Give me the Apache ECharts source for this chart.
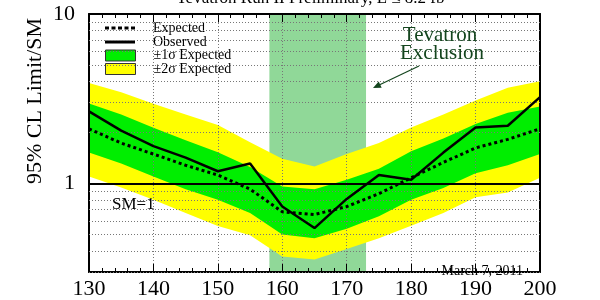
<!DOCTYPE html>
<html style="height:100%">
<head>
    <meta charset="utf-8">
    <script src="https://cdn.jsdelivr.net/npm/echarts@6/dist/echarts.min.js"></script>
    <title>Tevatron Higgs limit</title>
</head>
<body style="height:100%; margin:0; background:#fff">
<div id="container" style="width:600px; height:300px"></div>
<script type="text/javascript">
// Higgs mass points (GeV)
var mass = [130, 135, 140, 145, 150, 155, 160, 165, 170, 175, 180, 185, 190, 195, 200];
// 95% CL limit / SM
var observed = [2.66, 2.05, 1.66, 1.42, 1.18, 1.31, 0.73, 0.545, 0.81, 1.12, 1.05, 1.52, 2.14, 2.19, 3.23];
var expected = [2.10, 1.73, 1.49, 1.28, 1.12, 0.925, 0.68, 0.655, 0.73, 0.87, 1.08, 1.33, 1.62, 1.82, 2.10];
// +-1 sigma band
var sigma1Up = [2.96, 2.55, 2.13, 1.80, 1.53, 1.25, 0.96, 0.925, 1.05, 1.22, 1.55, 1.84, 2.24, 2.61, 2.84];
var sigma1Down = [1.52, 1.31, 1.10, 0.925, 0.80, 0.67, 0.50, 0.474, 0.54, 0.64, 0.80, 0.94, 1.15, 1.28, 1.49];
// +-2 sigma band
var sigma2Up = [3.92, 3.45, 2.95, 2.55, 2.21, 1.75, 1.40, 1.26, 1.49, 1.73, 2.14, 2.55, 3.09, 3.67, 4.01];
var sigma2Down = [1.10, 0.945, 0.80, 0.67, 0.56, 0.495, 0.37, 0.355, 0.41, 0.474, 0.563, 0.67, 0.83, 0.885, 1.08];
// Tevatron excluded mass range
var exclusion = [158, 173];
// minor y grid values
var minorGrid = [0.3, 0.4, 0.5, 0.6, 0.7, 0.8, 0.9, 2, 3, 4, 5, 6, 7, 8, 9];

var serif = 'Liberation Serif';
var chart = echarts.init(document.getElementById('container'));

function pairs(ys) {
    return mass.map(function (m, i) { return [m, ys[i]]; });
}

function band(upper, lower, color) {
    return function (params, api) {
        var pts = [];
        for (var i = 0; i < mass.length; i++) pts.push(api.coord([mass[i], upper[i]]));
        for (var j = mass.length - 1; j >= 0; j--) pts.push(api.coord([mass[j], lower[j]]));
        return { type: 'polygon', shape: { points: pts }, style: { fill: color } };
    };
}

var xCommon = {
    type: 'value', min: 130, max: 200, interval: 10, z: 3,
    axisLine: { lineStyle: { color: '#000', width: 2 } },
    axisTick: { inside: true, length: 8, lineStyle: { color: '#000' } },
    minorTick: { show: true, splitNumber: 5, length: 4, lineStyle: { color: '#000' } }
};
var yCommon = {
    type: 'log', logBase: 10, min: 0.3, max: 10, z: 3,
    axisLine: { lineStyle: { color: '#000', width: 2 } },
    axisTick: { inside: true, length: 8, lineStyle: { color: '#000' } },
    splitLine: { show: false }
};

// one legend per row so the rows sit where the reference puts them
var legendItems = [
    { name: 'Expected', icon: 'path://M0,0h4v3h-4zM6.5,0h4v3h-4zM13,0h4v3h-4zM19.5,0h4v3h-4zM26,0h4v3h-4z',
      itemStyle: { color: '#000' } },
    { name: 'Observed', icon: 'path://M0,0h30v3h-30z', itemStyle: { color: '#000' } },
    { name: '±1σ Expected', icon: 'rect', itemStyle: { color: '#00ee00', borderColor: '#333', borderWidth: 1 } },
    { name: '±2σ Expected', icon: 'rect', itemStyle: { color: '#ffff00', borderColor: '#333', borderWidth: 1 } }
];
var legendRows = [28, 42, 55.5, 69];
var legends = legendItems.map(function (item, i) {
    return {
        left: 105, top: legendRows[i] - 7, padding: 0,
        itemWidth: 30, itemHeight: 11,
        selectedMode: false, symbolKeepAspect: true,
        textStyle: { fontFamily: serif, fontSize: 14, color: '#000', lineHeight: 14, padding: [0, 0, 0, 13] },
        data: [item]
    };
});

var option = {
    animation: false,
    grid: { left: 89, right: 60, top: 14, bottom: 16 },
    xAxis: [
        Object.assign({}, xCommon, {
            position: 'bottom',
            axisLabel: { color: '#000', fontFamily: serif, fontSize: 22, margin: 6 },
            splitLine: { show: true, lineStyle: { color: '#777', type: [1, 2] } }
        }),
        Object.assign({}, xCommon, {
            position: 'top',
            axisLabel: { show: false },
            splitLine: { show: false }
        })
    ],
    yAxis: [
        Object.assign({}, yCommon, {
            position: 'left',
            axisLabel: { color: '#000', fontFamily: serif, fontSize: 22, margin: 14, showMinLabel: false }
        }),
        Object.assign({}, yCommon, {
            position: 'right',
            axisLabel: { show: false }
        })
    ],
    legend: legends,
    series: [
        {
            name: 'exclusion', type: 'custom', z: 1, silent: true,
            data: [[exclusion[0], 1]],
            renderItem: function (params, api) {
                var a = api.coord([exclusion[0], 10]);
                var b = api.coord([exclusion[1], 0.3]);
                return { type: 'rect', shape: { x: a[0], y: a[1], width: b[0] - a[0], height: b[1] - a[1] },
                    style: { fill: '#90d898' } };
            }
        },
        {
            name: '±2σ Expected', type: 'custom', z: 2, silent: true,
            itemStyle: { color: '#ffff00' },
            data: [[130, 1]], renderItem: band(sigma2Up, sigma2Down, '#ffff00')
        },
        {
            name: '±1σ Expected', type: 'custom', z: 2, silent: true,
            itemStyle: { color: '#00ee00' },
            data: [[130, 1]], renderItem: band(sigma1Up, sigma1Down, '#00ee00')
        },
        {
            name: 'Expected', type: 'line', z: 5, symbol: 'none', silent: true,
            data: pairs(expected),
            lineStyle: { color: '#000', width: 3, type: [3, 3], cap: 'butt' },
            itemStyle: { color: '#000' }
        },
        {
            name: 'Observed', type: 'line', z: 5, symbol: 'none', silent: true,
            data: pairs(observed),
            lineStyle: { color: '#000', width: 2.5 },
            itemStyle: { color: '#000' },
            markLine: {
                silent: true, symbol: 'none', label: { show: false }, animation: false,
                data: minorGrid.map(function (v) {
                    return { yAxis: v, lineStyle: { color: '#777', width: 1, type: [1, 2] } };
                }).concat([{ yAxis: 1, lineStyle: { color: '#000', width: 2, type: 'solid' } }])
            }
        }
    ],
    graphic: [
        { type: 'text', x: 316, y: 7, z: 10,
          style: { text: 'Tevatron Run II Preliminary, L ≤ 8.2 fb⁻¹', font: '17px "Liberation Serif"', fill: '#000',
                   textAlign: 'center', textVerticalAlign: 'bottom' } },
        { type: 'text', x: 35, y: 101, rotation: Math.PI / 2, z: 10,
          style: { text: '95% CL Limit/SM', font: '22px "Liberation Serif"', fill: '#000',
                   textAlign: 'center', textVerticalAlign: 'middle' } },
        { type: 'text', x: 440, y: 35, z: 10,
          style: { text: 'Tevatron', font: '21px "Liberation Serif"', fill: '#14451e',
                   textAlign: 'center', textVerticalAlign: 'middle' } },
        { type: 'text', x: 442, y: 53, z: 10,
          style: { text: 'Exclusion', font: '21px "Liberation Serif"', fill: '#14451e',
                   textAlign: 'center', textVerticalAlign: 'middle' } },
        { type: 'line', z: 10, shape: { x1: 419, y1: 66, x2: 376, y2: 86.5 },
          style: { stroke: '#14451e', lineWidth: 1.2 } },
        { type: 'polygon', z: 10, shape: { points: [[373, 88], [381.7, 87.7], [378.7, 81.4]] },
          style: { fill: '#14451e' } },
        { type: 'text', x: 112, y: 205, z: 10,
          style: { text: 'SM=1', font: '17px "Liberation Serif"', fill: '#000',
                   textAlign: 'left', textVerticalAlign: 'middle' } },
        { type: 'text', x: 523, y: 271, z: 10,
          style: { text: 'March 7, 2011', font: '14px "Liberation Serif"', fill: '#000',
                   textAlign: 'right', textVerticalAlign: 'middle' } }
    ]
};

chart.setOption(option);
</script>
</body>
</html>
